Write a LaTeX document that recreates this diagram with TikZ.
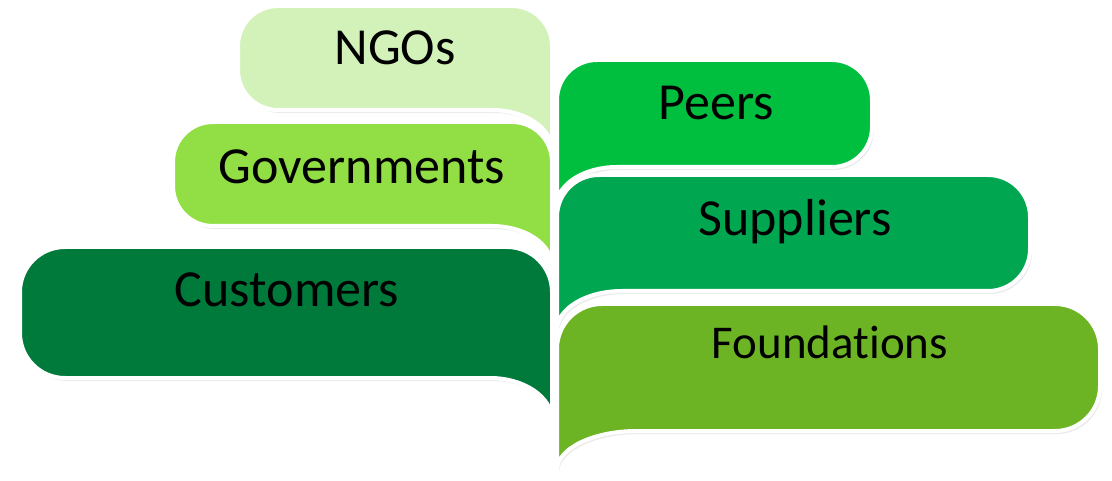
\documentclass[tikz,border=0pt]{standalone}
\usepackage{fontspec}
\setmainfont{Carlito}[Ligatures=NoCommon]
\definecolor{cngo}{HTML}{D3F2B9}
\definecolor{cgov}{HTML}{92DE45}
\definecolor{ccus}{HTML}{007A3B}
\definecolor{cpeer}{HTML}{00BF3F}
\definecolor{csup}{HTML}{00A650}
\definecolor{cfound}{HTML}{6CB423}
\definecolor{cshadow}{HTML}{EBEBEB}
\newcommand{\leftbubble}[8]{% x1 x2 t b tail R w color
  \fill[cshadow,shift={(2,3)}] (#1,#3+#6) arc[start angle=180,end angle=270,radius=#6] -- (#2-#6,#3) arc[start angle=270,end angle=360,radius=#6] -- (#2,#5) .. controls (#2,#4+0.45*#5-0.45*#4) and (#2-0.45*#7,#4) .. (#2-#7,#4) -- (#1+#6,#4) arc[start angle=90,end angle=180,radius=#6] -- cycle;
  \filldraw[fill=#8,draw=white,line width=4pt] (#1,#3+#6) arc[start angle=180,end angle=270,radius=#6] -- (#2-#6,#3) arc[start angle=270,end angle=360,radius=#6] -- (#2,#5) .. controls (#2,#4+0.45*#5-0.45*#4) and (#2-0.45*#7,#4) .. (#2-#7,#4) -- (#1+#6,#4) arc[start angle=90,end angle=180,radius=#6] -- cycle;}
\newcommand{\rightbubble}[8]{% x1 x2 t b tail R w color
  \fill[cshadow,shift={(2,3)}] (#1,#5) -- (#1,#3+#6) arc[start angle=180,end angle=270,radius=#6] -- (#2-#6,#3) arc[start angle=270,end angle=360,radius=#6] -- (#2,#4-#6) arc[start angle=0,end angle=90,radius=#6] -- (#1+#7,#4) .. controls (#1+0.45*#7,#4) and (#1,#4+0.45*#5-0.45*#4) .. (#1,#5) -- cycle;
  \filldraw[fill=#8,draw=white,line width=4pt] (#1,#5) -- (#1,#3+#6) arc[start angle=180,end angle=270,radius=#6] -- (#2-#6,#3) arc[start angle=270,end angle=360,radius=#6] -- (#2,#4-#6) arc[start angle=0,end angle=90,radius=#6] -- (#1+#7,#4) .. controls (#1+0.45*#7,#4) and (#1,#4+0.45*#5-0.45*#4) .. (#1,#5) -- cycle;}
\begin{document}
\begin{tikzpicture}[x=1pt,y=-1pt,
  lbl/.style={anchor=base,inner sep=0pt,font=\fontsize{52}{60}\selectfont,text=black}]
\useasboundingbox (0,0) rectangle (1112,481);
% left column
\leftbubble{238}{552}{6}{110}{150}{40}{60}{cngo}
\leftbubble{173}{552}{122}{226}{266}{40}{60}{cgov}
\leftbubble{20}{552}{247}{378}{420}{45}{62}{ccus}
% right column
\rightbubble{557}{872}{60}{167}{205}{40}{60}{cpeer}
\rightbubble{557}{1030}{175}{291}{330}{42}{65}{csup}
\rightbubble{557}{1100}{304}{431}{470}{45}{80}{cfound}
% labels
\node[lbl] (ngo) at (395,65) {NGOs};
\node[lbl] (gov) at (362,184) {Governments};
\node[lbl] (cus) at (287,307) {Customers};
\node[lbl] (peer) at (716,120) {Peers};
\node[lbl] (sup) at (795,236) {Suppliers};
\node[lbl,font=\fontsize{47}{56}\selectfont] (found) at (830,358) {Foundations};
\end{tikzpicture}
\end{document}
